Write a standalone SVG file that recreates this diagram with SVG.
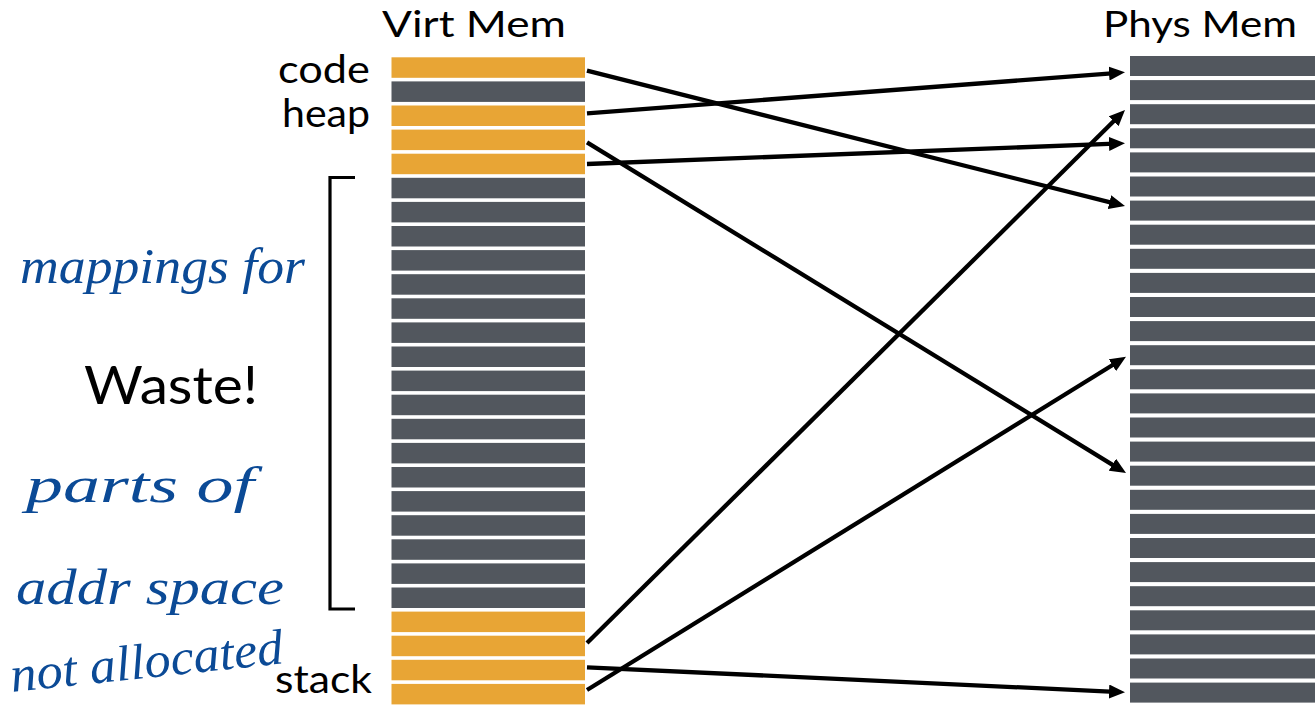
<svg xmlns="http://www.w3.org/2000/svg" width="1315" height="708" viewBox="0 0 1315 708">
  <style>
    .bg { fill: #ffffff; }
    .used { fill: #E8A535; }
    .free { fill: #52575E; }
    .title { font-family: Lato, "Open Sans", "DejaVu Sans", sans-serif; font-size: 37px; fill: #000; }
    .label { font-family: Lato, "Open Sans", "DejaVu Sans", sans-serif; font-size: 38px; fill: #000; }
    .big { font-family: Lato, "Open Sans", "DejaVu Sans", sans-serif; font-size: 52px; fill: #000; }
    .ink { font-family: "Liberation Serif", "DejaVu Serif", serif; font-style: italic; font-size: 50px; fill: #0B4A96; }
    .map { stroke: #000; stroke-width: 4.3; fill: none; marker-end: url(#head); }
    .brace { stroke: #000; stroke-width: 3.2; fill: none; }
  </style>
  <defs>
    <marker id="head" markerUnits="userSpaceOnUse" markerWidth="17" markerHeight="14" refX="6" refY="7" orient="auto">
      <path d="M0,0 L16,7 L0,14 z" fill="#000"/>
    </marker>
  </defs>

  <rect class="bg" x="0" y="0" width="1315" height="708"/>

  <!-- virtual address space: 27 pages -->
  <g id="virt-mem">
    <text class="title" x="382" y="37" textLength="184" lengthAdjust="spacingAndGlyphs">Virt Mem</text>
    <rect class="used" x="391.5" y="57.3" width="193.5" height="20.5"/>
    <rect class="free" x="391.5" y="81.4" width="193.5" height="20.5"/>
    <rect class="used" x="391.5" y="105.5" width="193.5" height="20.5"/>
    <rect class="used" x="391.5" y="129.6" width="193.5" height="20.5"/>
    <rect class="used" x="391.5" y="153.7" width="193.5" height="20.5"/>
    <rect class="free" x="391.5" y="177.8" width="193.5" height="20.5"/>
    <rect class="free" x="391.5" y="201.9" width="193.5" height="20.5"/>
    <rect class="free" x="391.5" y="226.0" width="193.5" height="20.5"/>
    <rect class="free" x="391.5" y="250.1" width="193.5" height="20.5"/>
    <rect class="free" x="391.5" y="274.2" width="193.5" height="20.5"/>
    <rect class="free" x="391.5" y="298.3" width="193.5" height="20.5"/>
    <rect class="free" x="391.5" y="322.4" width="193.5" height="20.5"/>
    <rect class="free" x="391.5" y="346.5" width="193.5" height="20.5"/>
    <rect class="free" x="391.5" y="370.6" width="193.5" height="20.5"/>
    <rect class="free" x="391.5" y="394.7" width="193.5" height="20.5"/>
    <rect class="free" x="391.5" y="418.8" width="193.5" height="20.5"/>
    <rect class="free" x="391.5" y="442.9" width="193.5" height="20.5"/>
    <rect class="free" x="391.5" y="467.0" width="193.5" height="20.5"/>
    <rect class="free" x="391.5" y="491.1" width="193.5" height="20.5"/>
    <rect class="free" x="391.5" y="515.2" width="193.5" height="20.5"/>
    <rect class="free" x="391.5" y="539.3" width="193.5" height="20.5"/>
    <rect class="free" x="391.5" y="563.4" width="193.5" height="20.5"/>
    <rect class="free" x="391.5" y="587.5" width="193.5" height="20.5"/>
    <rect class="used" x="391.5" y="611.6" width="193.5" height="20.5"/>
    <rect class="used" x="391.5" y="635.7" width="193.5" height="20.5"/>
    <rect class="used" x="391.5" y="659.8" width="193.5" height="20.5"/>
    <rect class="used" x="391.5" y="683.9" width="193.5" height="20.5"/>
  </g>

  <!-- physical memory: 27 frames -->
  <g id="phys-mem">
    <text class="title" x="1103" y="37" textLength="194" lengthAdjust="spacingAndGlyphs">Phys Mem</text>
    <rect class="free" x="1130" y="56.0" width="185" height="20"/>
    <rect class="free" x="1130" y="80.1" width="185" height="20"/>
    <rect class="free" x="1130" y="104.2" width="185" height="20"/>
    <rect class="free" x="1130" y="128.3" width="185" height="20"/>
    <rect class="free" x="1130" y="152.4" width="185" height="20"/>
    <rect class="free" x="1130" y="176.5" width="185" height="20"/>
    <rect class="free" x="1130" y="200.6" width="185" height="20"/>
    <rect class="free" x="1130" y="224.7" width="185" height="20"/>
    <rect class="free" x="1130" y="248.8" width="185" height="20"/>
    <rect class="free" x="1130" y="272.9" width="185" height="20"/>
    <rect class="free" x="1130" y="297.0" width="185" height="20"/>
    <rect class="free" x="1130" y="321.1" width="185" height="20"/>
    <rect class="free" x="1130" y="345.2" width="185" height="20"/>
    <rect class="free" x="1130" y="369.3" width="185" height="20"/>
    <rect class="free" x="1130" y="393.4" width="185" height="20"/>
    <rect class="free" x="1130" y="417.5" width="185" height="20"/>
    <rect class="free" x="1130" y="441.6" width="185" height="20"/>
    <rect class="free" x="1130" y="465.7" width="185" height="20"/>
    <rect class="free" x="1130" y="489.8" width="185" height="20"/>
    <rect class="free" x="1130" y="513.9" width="185" height="20"/>
    <rect class="free" x="1130" y="538.0" width="185" height="20"/>
    <rect class="free" x="1130" y="562.1" width="185" height="20"/>
    <rect class="free" x="1130" y="586.2" width="185" height="20"/>
    <rect class="free" x="1130" y="610.3" width="185" height="20"/>
    <rect class="free" x="1130" y="634.4" width="185" height="20"/>
    <rect class="free" x="1130" y="658.5" width="185" height="20"/>
    <rect class="free" x="1130" y="682.6" width="185" height="20"/>
  </g>

  <!-- segment labels -->
  <g id="label-code"><text class="label" x="370" y="83" text-anchor="end" textLength="92" lengthAdjust="spacingAndGlyphs">code</text></g>
  <g id="label-heap"><text class="label" x="370" y="127" text-anchor="end" textLength="88" lengthAdjust="spacingAndGlyphs">heap</text></g>
  <g id="label-stack"><text class="label" x="372" y="693" text-anchor="end" textLength="97" lengthAdjust="spacingAndGlyphs">stack</text></g>

  <!-- bracket over the unallocated middle -->
  <g id="gap-bracket">
    <path class="brace" d="M355,177.5 H330 V609 H355"/>
    <text class="big" x="84" y="404" textLength="174" lengthAdjust="spacingAndGlyphs">Waste!</text>
  </g>

  <!-- handwritten note -->
  <g id="note">
    <text class="ink" x="20" y="283" textLength="285" lengthAdjust="spacingAndGlyphs">mappings for</text>
    <text class="ink" x="26" y="502" textLength="228" lengthAdjust="spacingAndGlyphs">parts of</text>
    <text class="ink" x="16" y="604" textLength="268" lengthAdjust="spacingAndGlyphs">addr space</text>
    <text class="ink" x="12" y="692" font-size="46" textLength="274" lengthAdjust="spacingAndGlyphs" transform="rotate(-6 12 692)">not allocated</text>
  </g>

  <!-- page table mappings -->
  <g id="mappings">
    <line class="map" x1="587" y1="70.7" x2="1115.3" y2="203.6"/>
    <line class="map" x1="587" y1="113.3" x2="1115.0" y2="73.1"/>
    <line class="map" x1="587" y1="142.3" x2="1117.5" y2="467.8"/>
    <line class="map" x1="587" y1="164" x2="1115.0" y2="143.7"/>
    <line class="map" x1="587" y1="643" x2="1117.9" y2="117.0"/>
    <line class="map" x1="587" y1="690" x2="1117.5" y2="362.0"/>
    <line class="map" x1="587" y1="667.3" x2="1115.0" y2="691.8"/>
  </g>
</svg>
